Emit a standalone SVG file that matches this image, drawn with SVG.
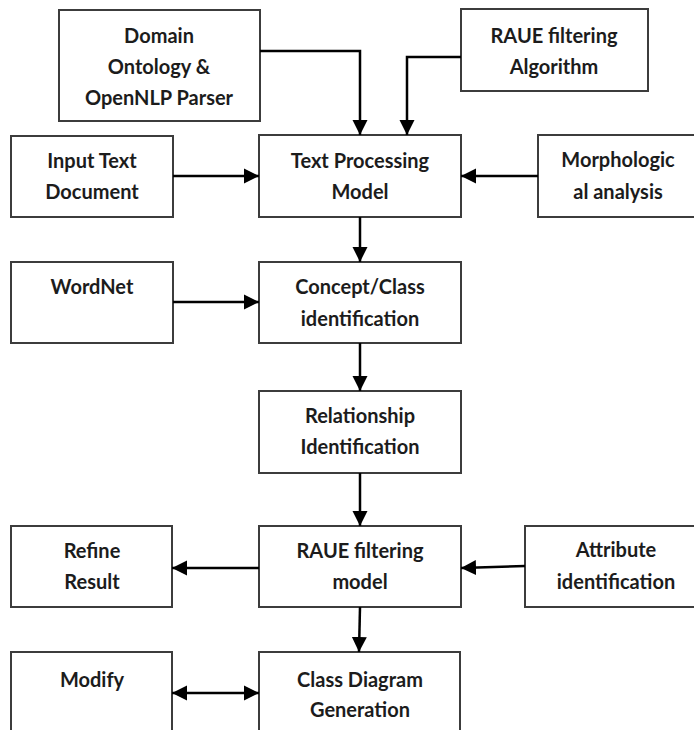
<svg xmlns="http://www.w3.org/2000/svg" width="694" height="730" viewBox="0 0 694 730">
<style>
.box{fill:#fff;stroke:#3c3c3c;stroke-width:2}
.t{font-family:Lato,"Liberation Sans",sans-serif;font-weight:700;font-size:20px;fill:#1c1c1c;text-anchor:middle}
.c{fill:none;stroke:#000;stroke-width:2.5}
</style>
<defs>
<marker id="ah" markerUnits="userSpaceOnUse" markerWidth="16" markerHeight="16" refX="15" refY="7.5" orient="auto-start-reverse" viewBox="0 0 16 15">
<path d="M0,0 L15,7.5 L0,15 z" fill="#000"/>
</marker>
</defs>
<rect width="694" height="730" fill="#fff"/>
<g id="domain"><rect class="box" x="59" y="10" width="201" height="111"/>
<text class="t" x="159" y="43">Domain</text><text class="t" x="159" y="74">Ontology &amp;</text><text class="t" x="159" y="105">OpenNLP Parser</text></g>
<g id="raue-alg"><rect class="box" x="461" y="9" width="187" height="82"/>
<text class="t" x="554" y="43">RAUE filtering</text><text class="t" x="554" y="74">Algorithm</text></g>
<g id="input"><rect class="box" x="11" y="136" width="162" height="81"/>
<text class="t" x="92" y="168">Input Text</text><text class="t" x="92" y="199">Document</text></g>
<g id="tpm"><rect class="box" x="259" y="135" width="202" height="82"/>
<text class="t" x="360" y="168">Text Processing</text><text class="t" x="360" y="199">Model</text></g>
<g id="morph"><rect class="box" x="538" y="135" width="162" height="82"/>
<text class="t" x="618" y="167">Morphologic</text><text class="t" x="618" y="199">al analysis</text></g>
<g id="wordnet"><rect class="box" x="11" y="262" width="162" height="81"/>
<text class="t" x="92" y="294">WordNet</text></g>
<g id="concept"><rect class="box" x="259" y="262" width="202" height="81"/>
<text class="t" x="360" y="294">Concept/Class</text><text class="t" x="360" y="326">identification</text></g>
<g id="relationship"><rect class="box" x="259" y="391" width="202" height="82"/>
<text class="t" x="360" y="423">Relationship</text><text class="t" x="360" y="454">Identification</text></g>
<g id="refine"><rect class="box" x="11" y="526" width="161" height="81"/>
<text class="t" x="92" y="558">Refine</text><text class="t" x="92" y="589">Result</text></g>
<g id="raue-model"><rect class="box" x="259" y="526" width="202" height="81"/>
<text class="t" x="360" y="558">RAUE filtering</text><text class="t" x="360" y="589">model</text></g>
<g id="attribute"><rect class="box" x="525" y="526" width="184" height="81"/>
<text class="t" x="616" y="557">Attribute</text><text class="t" x="616" y="589">identification</text></g>
<g id="modify"><rect class="box" x="11" y="652" width="161" height="90"/>
<text class="t" x="92" y="687">Modify</text></g>
<g id="classdiag"><rect class="box" x="259" y="652" width="201" height="90"/>
<text class="t" x="360" y="687">Class Diagram</text><text class="t" x="360" y="717">Generation</text></g>
<g id="connectors">
<path class="c" d="M260,51 H360 V135" marker-end="url(#ah)"/>
<path class="c" d="M461,57 H407 V135" marker-end="url(#ah)"/>
<path class="c" d="M173,176 H259" marker-end="url(#ah)"/>
<path class="c" d="M538,176 H461" marker-end="url(#ah)"/>
<path class="c" d="M360,217 V262" marker-end="url(#ah)"/>
<path class="c" d="M173,302 H259" marker-end="url(#ah)"/>
<path class="c" d="M360,343 V391" marker-end="url(#ah)"/>
<path class="c" d="M360,473 V526" marker-end="url(#ah)"/>
<path class="c" d="M259,568 H172" marker-end="url(#ah)"/>
<path class="c" d="M525,566 L461,568" marker-end="url(#ah)"/>
<path class="c" d="M360,607 L359,652" marker-end="url(#ah)"/>
<path class="c" d="M172,693 H259" marker-start="url(#ah)" marker-end="url(#ah)"/>
</g>
</svg>
